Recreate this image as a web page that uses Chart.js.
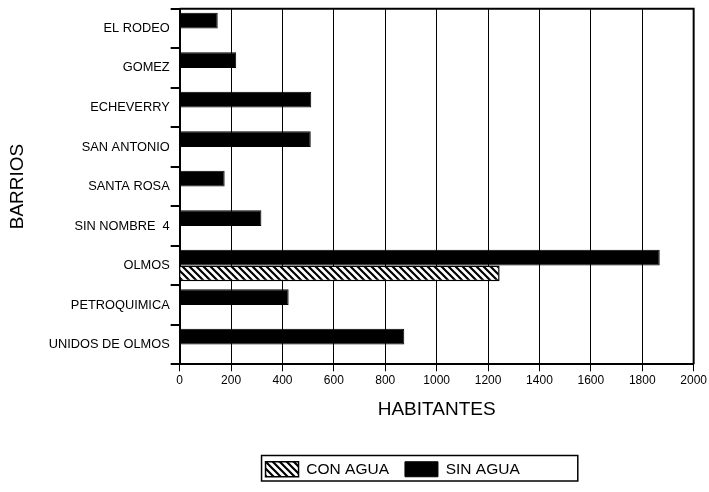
<!DOCTYPE html>
<html>
<head>
<meta charset="utf-8">
<script src="https://cdn.jsdelivr.net/npm/chart.js@4"></script>
<style>
html,body{margin:0;padding:0;background:#fff}
</style>
</head>
<body>
<canvas id="plot" width="709" height="492"></canvas>
<script>
// datos
const barrios = ["EL RODEO","GOMEZ","ECHEVERRY","SAN ANTONIO","SANTA ROSA","SIN NOMBRE  4","OLMOS","PETROQUIMICA","UNIDOS DE OLMOS"];
const sinAgua = [148, 220, 512, 510, 175, 318, 1868, 424, 874];
const conAgua = [null, null, null, null, null, null, 1245, null, null];
const xTicks = [0,200,400,600,800,1000,1200,1400,1600,1800,2000];

const FONT = "'Liberation Sans', Arial, sans-serif";
const LEG_SHIFT = -44;
let ctx = document.getElementById("plot").getContext("2d");

// rayado para CON AGUA
function hatch(){
  const c = document.createElement("canvas");
  c.width = 7; c.height = 7;
  const g = c.getContext("2d");
  g.fillStyle = "#fff"; g.fillRect(0,0,7,7);
  g.strokeStyle = "#000"; g.lineWidth = 2.2;
  g.beginPath();
  g.moveTo(-1,-1); g.lineTo(8,8);
  g.moveTo(-1,6); g.lineTo(1,8);
  g.moveTo(6,-1); g.lineTo(8,1);
  g.stroke();
  return ctx.createPattern(c, "repeat");
}

const frame = {
  id: "frame",
  beforeDraw(chart){
    // mover la leyenda un poco a la izquierda como en el original
    chart.legend.left += LEG_SHIFT;
    chart.legend.right += LEG_SHIFT;
  },
  afterDraw(chart){
    const a = chart.chartArea, c = chart.ctx;
    c.save();
    c.strokeStyle = "#000";
    c.lineWidth = 2;
    c.beginPath();
    c.moveTo(a.left, a.top); c.lineTo(a.right, a.top); c.lineTo(a.right, a.bottom);
    c.stroke();
    // caja de la leyenda
    const hb = chart.legend.legendHitBoxes;
    if (hb && hb.length){
      const last = hb[hb.length-1];
      const l = hb[0].left + LEG_SHIFT - 4, r = last.left + last.width + LEG_SHIFT + 58;
      const t = hb[0].top - 6, h = hb[0].height + 10;
      c.lineWidth = 1.5;
      c.strokeRect(l, t, r - l, h);
    }
    c.restore();
  }
};

const data = {
  labels: barrios,
  datasets: [
    {
      label: "SIN AGUA",
      data: sinAgua,
      backgroundColor: "#000",
      borderColor: "#000",
      borderWidth: 1
    },
    {
      label: "CON AGUA",
      data: conAgua,
      backgroundColor: hatch(),
      borderColor: "#000",
      borderWidth: 1.5
    }
  ]
};

const config = {
  type: "bar",
  data: data,
  options: {
    indexAxis: "y",
    responsive: false,
    animation: false,
    categoryPercentage: 0.8,
    barPercentage: 1,
    layout: { padding: { top: 4, right: 11, bottom: 5, left: 6 } },
    plugins: {
      tooltip: { enabled: false },
      legend: {
        position: "bottom",
        fullSize: false,
        reverse: true,
        labels: {
          color: "#000",
          font: { family: FONT, size: 15.5 },
          boxWidth: 33,
          boxHeight: 15,
          padding: 16
        }
      }
    },
    scales: {
      x: {
        min: 0,
        max: 2000,
        afterBuildTicks: axis => { axis.ticks = xTicks.map(v => ({ value: v })); },
        ticks: {
          color: "#000",
          font: { family: FONT, size: 12 },
          padding: 2,
          maxRotation: 0,
          callback: v => String(v)
        },
        grid: { color: "#000", lineWidth: 1, tickLength: 7 },
        border: { color: "#000", width: 2 },
        title: {
          display: true,
          text: "HABITANTES",
          color: "#000",
          font: { family: FONT, size: 19 },
          padding: { top: 9, bottom: 24 }
        }
      },
      y: {
        ticks: { color: "#000", font: { family: FONT, size: 12.8 }, padding: 1 },
        grid: { offset: true, drawOnChartArea: false, color: "#000", lineWidth: 2, tickLength: 9 },
        border: { color: "#000", width: 2 },
        title: {
          display: true,
          text: "BARRIOS",
          color: "#000",
          font: { family: FONT, size: 19 },
          padding: { top: 0, bottom: 19 }
        }
      }
    }
  },
  plugins: [frame]
};

let chart = new Chart(ctx, config);
</script>
</body>
</html>
